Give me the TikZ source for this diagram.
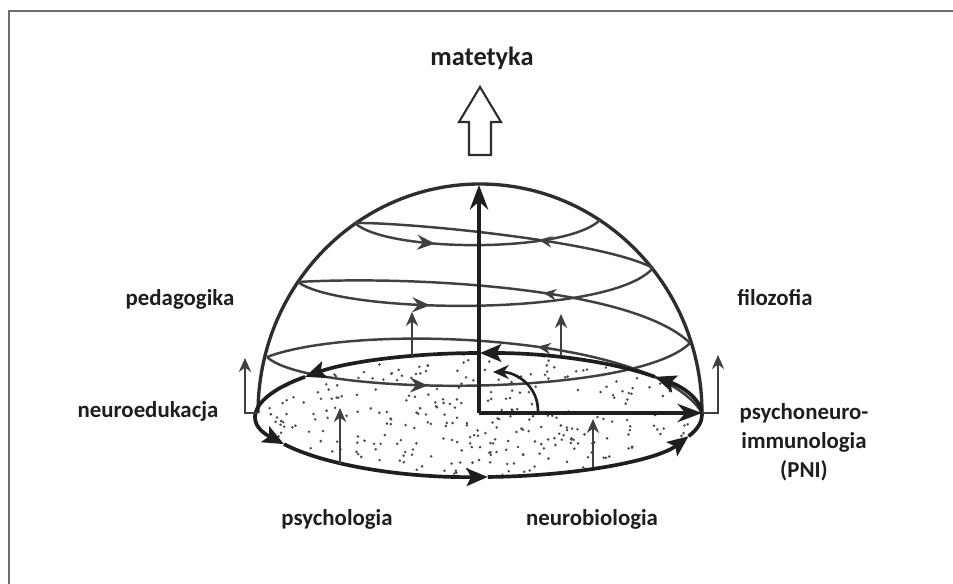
\documentclass[tikz,border=0pt]{standalone}
\usepackage{fontspec}
\setmainfont{Carlito}
\usetikzlibrary{arrows.meta, decorations.markings}
\definecolor{ink}{HTML}{1E1E1E}
\definecolor{shell}{HTML}{2E2E2E}
\definecolor{coilgray}{HTML}{404040}
\definecolor{framegray}{HTML}{6E6E6E}
\definecolor{speck}{HTML}{4A4A4A}

\tikzset{
  lbl/.style={font=\fontsize{13}{16.4}\selectfont\bfseries, text=ink},
  coil/.style={draw=coilgray, line width=1.4pt},
  fwdmark/.style={postaction={decorate, decoration={markings,
      mark=at position #1 with {\arrow{Stealth[length=10pt, width=8.5pt]}}}}},
  bckmark/.style={postaction={decorate, decoration={markings,
      mark=at position #1 with {\arrow{Stealth[length=7.5pt, width=6.5pt]}}}}},
  rim/.style={draw=ink, line width=2.1pt, -{Stealth[length=12pt, width=10pt, inset=2.5pt]}},
  axis/.style={draw=ink, line width=1.8pt, -{Stealth[length=14pt, width=10.5pt]}},
  riser/.style={draw=coilgray, line width=1pt, -{Stealth[length=8pt, width=7pt]}},
}

\begin{document}
\begin{tikzpicture}[x=0.02cm, y=-0.02cm]

\useasboundingbox (0,0) rectangle (953,584);
\fill[white] (0,0) rectangle (953,584);

% Frame (top and left edges)
\draw[framegray, line width=1.2pt] (9,584) -- (9,11) -- (953,11);

% --- Dotted base disc ---
\begin{scope}
\clip (480,415) ellipse [x radius=220, y radius=60];
\pgfmathsetseed{42}
\foreach \k in {1,...,380}
  \fill[speck] ({480+222*rand},{415+62*rand}) circle[radius=0.8pt];
\end{scope}

% --- Dome ---
\draw[shell, line width=1.9pt] (258,413) arc[start angle=180, end angle=360, x radius=222, y radius=229];

% Spiral points on the dome
\coordinate (L1) at (355,223);
\coordinate (R1) at (600,220);
\coordinate (L2) at (298,282);
\coordinate (R2) at (653,268);
\coordinate (L3) at (267,357);
\coordinate (R3) at (690,343);
\coordinate (R4) at (702,413);

% front arcs (left to right)
\draw[coil, fwdmark=0.33] (L1) .. controls (385,252) and (565,254) .. (R1);
\draw[coil, fwdmark=0.37] (L2) .. controls (340,314) and (610,318) .. (R2);
\draw[coil, fwdmark=0.38] (L3) .. controls (310,397) and (635,398) .. (R3);
% back arcs (right to left)
\draw[coil, bckmark=0.39] (R2) .. controls (600,240) and (400,222) .. (L1);
\draw[coil, bckmark=0.39] (R3) .. controls (630,285) and (400,276) .. (L2);
\draw[coil, bckmark=0.40] (R4) .. controls (655,335) and (360,322) .. (L3);

% --- Base rim with circulation arrows ---
\foreach \a/\b in {0/-38, -38/-90, -90/-142, -142/-208, -208/-272, -272/-340}
  \draw[rim] ({480+222*cos(\a)},{415+62*sin(\a)})
    arc[start angle=\a, end angle=\b, x radius=222, y radius=62];
\draw[ink, line width=2.1pt] ({480+222*cos(-340)},{415+62*sin(-340)})
  arc[start angle=-340, end angle=-360, x radius=222, y radius=62];

% --- Axes ---
\coordinate (O) at (479,413);
\coordinate (apex) at (479,185);
\draw[axis] (O) -- (apex);
\draw[axis] (O) -- (R4);
\draw[ink, line width=1.5pt, -{Stealth[length=9pt, width=8pt]}]
  (538,411) .. controls (538,385) and (515,372) .. (493,372);

% --- Small upward arrows ---
\draw[riser] (258,413) -- (245,413) -- (245,358);
\draw[riser] (702,413) -- (718,413) -- (718,355);
\draw[riser] (412,356) -- (412,312);
\draw[riser] (561,356) -- (561,314);
\draw[riser] (340,464) -- (340,408);
\draw[riser] (593,467) -- (593,419);

% --- Hollow arrow to the top label ---
\draw[shell, line width=1.2pt, fill=white, line join=miter]
  (469,155) -- (491,155) -- (491,122) -- (501,122) -- (480,87)
  -- (459,122) -- (469,122) -- cycle;

% --- Labels ---
\node[lbl, font=\fontsize{15}{18}\selectfont\bfseries, anchor=base] (mat) at (482,66) {matetyka};
\node[lbl, anchor=base] (ped) at (180,305) {pedagogika};
\node[lbl, anchor=base] (fil) at (775,305) {filozofia};
\node[lbl, anchor=base] (neu) at (148,417) {neuroedukacja};
\node[lbl, align=center] (pni) at (804,442) {psychoneuro-\\immunologia\\(PNI)};
\node[lbl, anchor=base] (psy) at (337,525) {psychologia};
\node[lbl, anchor=base] (bio) at (592,525) {neurobiologia};

\end{tikzpicture}
\end{document}
